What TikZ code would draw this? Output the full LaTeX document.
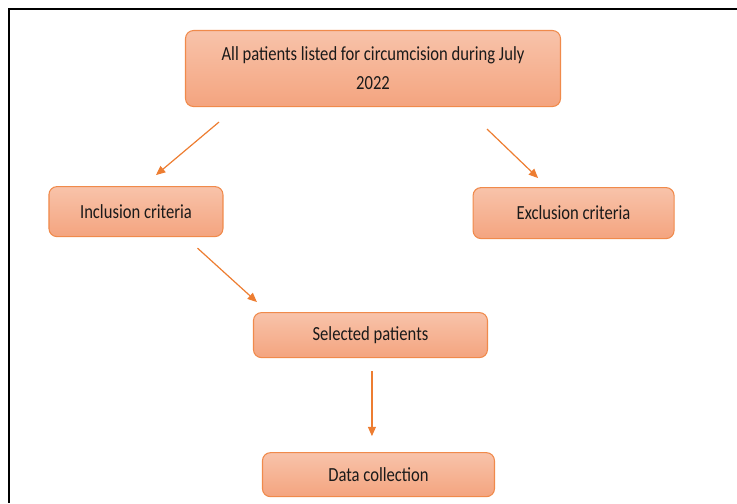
\documentclass[tikz,border=0pt]{standalone}
\usepackage{fontspec}
\setmainfont{Carlito}[FakeStretch=0.83]
\usetikzlibrary{arrows.meta, positioning}
\definecolor{CForange}{HTML}{ED7D31}
\definecolor{CFedge}{HTML}{F08A4B}
\definecolor{CFtop}{HTML}{F8C3AA}
\definecolor{CFbot}{HTML}{F4A47F}
\definecolor{CFink}{HTML}{1A1A1A}
\tikzset{
  cfbox/.style={rectangle, rounded corners=6pt, draw=CFedge, line width=0.8pt,
    top color=CFtop, bottom color=CFbot, text=CFink, align=center, inner sep=0pt,
    font=\fontsize{15}{21.75}\selectfont},
  cfarr/.style={-{Triangle[length=7pt,width=6pt]}, line width=0.9pt, draw=CForange},
  cfframe/.style={line width=1.5pt, draw=black},
}
\begin{document}
\begin{tikzpicture}
        \useasboundingbox (0,0) rectangle (552.75pt,-377.25pt);
        \draw[cfframe] (552.75pt,-7.1pt) -- (6.75pt,-7.1pt) -- (6.75pt,-377.25pt);
        \node[cfbox, minimum width=281.25pt, minimum height=57pt] (all) at (279.75pt,-51.4pt){All patients listed for circumcision during July\\2022};
        \node[cfbox, minimum width=130.5pt, minimum height=37.5pt, below=59.25pt of all.south west, xshift=-36.75pt] (incl){Inclusion criteria};
        \node[cfbox, minimum width=150.75pt, minimum height=38.25pt, below=60pt of all.south east, xshift=9.4pt] (excl){Exclusion criteria};
        \node[cfbox, minimum width=175.5pt, minimum height=33.75pt, below=153.75pt of all, xshift=-1.9pt] (sel){Selected patients};
        \node[cfbox, minimum width=174pt, minimum height=33pt, below=70.5pt of sel, xshift=6pt] (data){Data collection};
        \draw[cfarr]([xshift=25.5pt, yshift=-11.25pt]all.south west)--([xshift=15pt, yshift=8.25pt]incl.north);
        \draw[cfarr]([xshift=-55.5pt, yshift=-16.5pt]all.south east)--([xshift=-26.6pt, yshift=6.75pt]excl.north);
        \draw[cfarr]([xshift=-19.5pt, yshift=-8.25pt]incl.south east)--([xshift=3pt, yshift=7.5pt]sel.north west);
        \draw[cfarr]([xshift=1.1pt, yshift=-9.75pt]sel.south)--([xshift=-4.9pt, yshift=12pt]data.north);
      \end{tikzpicture}
\end{document}
